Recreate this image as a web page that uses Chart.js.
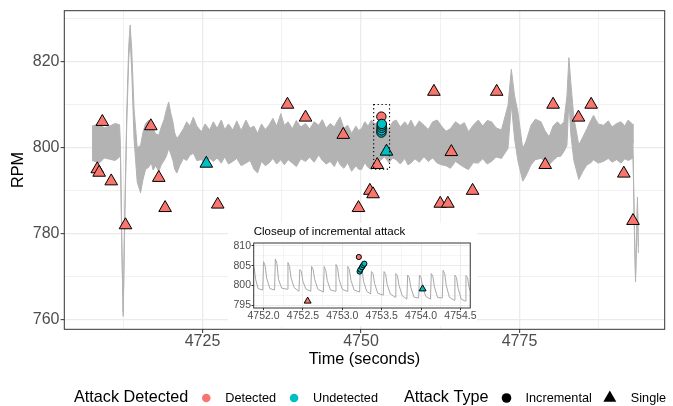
<!DOCTYPE html>
<html>
<head>
<meta charset="utf-8">
<script src="https://cdn.jsdelivr.net/npm/chart.js@4.4.1/dist/chart.umd.min.js"></script>
<style>
  html, body { margin: 0; padding: 0; background: #fff; }
  #wrap { position: relative; width: 673px; height: 406px; }
  #main { position: absolute; left: 0; top: 0; }
  #inset { position: absolute; left: 228px; top: 223px; }
</style>
</head>
<body>
<div id="wrap">
  <canvas id="main" width="673" height="406"></canvas>
  <canvas id="inset" width="249" height="103"></canvas>
</div>
<script>
// signal envelope (dense RPM oscillation)
const bandTime = [4707.55, 4708.8, 4709.5, 4710.36, 4711.2, 4711.92, 4712.05, 4712.27, 4712.49, 4712.74,
  4713.05, 4713.36, 4713.58, 4713.83, 4714.2, 4714.7, 4715.23, 4715.6, 4716.01, 4716.54,
  4716.9, 4717.21, 4717.6, 4718.1, 4718.5, 4718.93, 4719.3, 4719.66, 4720.0, 4720.33,
  4720.6, 4720.95, 4721.4, 4721.99, 4722.5, 4723.0, 4723.55, 4724.1, 4724.84, 4725.4,
  4726.14, 4726.7, 4727.3, 4727.96, 4728.5, 4729.1, 4729.78, 4730.4, 4731.1, 4731.85,
  4732.5, 4733.1, 4733.68, 4734.3, 4734.9, 4735.48, 4736.1, 4736.7, 4737.35, 4737.9,
  4738.5, 4739.17, 4739.8, 4740.5, 4741.25, 4741.9, 4742.6, 4743.33, 4743.9, 4744.5,
  4745.14, 4745.8, 4746.3, 4746.7, 4747.3, 4747.9, 4748.52, 4749.2, 4749.6, 4750.08,
  4750.6, 4751.1, 4751.64, 4752.2, 4752.9, 4753.71, 4754.4, 4755.0, 4755.53, 4756.2,
  4756.9, 4757.4, 4757.87, 4758.5, 4759.2, 4759.94, 4760.6, 4761.3, 4762.02, 4762.7,
  4763.4, 4764.1, 4764.9, 4765.65, 4766.3, 4766.95, 4767.7, 4768.5, 4769.2, 4769.9,
  4770.59, 4771.3, 4772.15, 4773.18, 4773.71, 4774.22, 4774.74, 4775.51, 4776.04, 4776.82,
  4777.5, 4778.38, 4779.0, 4779.67, 4780.3, 4780.97, 4781.5, 4782.01, 4782.48, 4782.79,
  4783.1, 4783.57, 4784.35, 4785.0, 4785.64, 4786.2, 4786.68, 4787.4, 4788.24, 4789.0,
  4789.6, 4790.31, 4791.0, 4791.6, 4792.13, 4792.8, 4792.9, 4793.0, 4793.15, 4793.3,
  4793.45, 4793.6, 4793.75];
const bandHigh = [805.0, 805.6, 804.6, 805.0, 805.6, 805.3, 801.0, 778.5, 761.8, 785.0,
  808.0, 823.5, 828.5, 823.0, 809.0, 800.0, 800.5, 803.5, 805.6, 806.4,
  804.0, 804.5, 803.2, 802.9, 804.8, 806.5, 808.8, 810.6, 808.0, 806.0,
  803.5, 802.1, 803.0, 804.4, 806.0, 805.0, 807.1, 805.0, 803.7, 805.5,
  804.1, 806.0, 804.5, 806.4, 804.2, 805.5, 804.1, 806.2, 804.0, 806.4,
  804.5, 805.0, 803.3, 805.5, 804.2, 805.2, 806.8, 805.0, 807.9, 805.2,
  806.0, 804.4, 806.3, 804.8, 805.6, 804.3, 806.0, 805.2, 806.5, 804.5,
  805.6, 804.8, 806.2, 807.1, 804.5, 805.2, 803.3, 805.0, 804.0, 804.4,
  806.0, 805.0, 806.4, 805.5, 806.3, 805.2, 804.3, 806.0, 806.4, 804.8,
  806.0, 805.0, 806.4, 804.6, 806.2, 805.2, 804.2, 806.0, 806.4, 805.0,
  803.8, 804.4, 806.0, 805.2, 805.8, 803.7, 805.2, 806.4, 805.0, 806.3,
  806.0, 804.6, 804.1, 809.8, 818.2, 812.0, 808.3, 799.8, 801.5, 805.2,
  806.6, 806.0, 804.0, 802.5, 805.0, 806.0, 805.2, 806.0, 812.0, 820.9,
  815.0, 807.0, 800.6, 802.5, 804.4, 806.2, 807.5, 805.5, 805.2, 806.2,
  804.8, 805.6, 806.0, 805.0, 806.4, 805.5, 801.0, 792.0, 780.0, 770.0,
  779.0, 788.5, 777.0];
const bandLow = [797.0, 796.5, 797.6, 797.3, 797.0, 797.8, 798.5, 776.5, 760.8, 783.0,
  805.5, 820.5, 825.5, 818.0, 802.0, 792.0, 789.5, 792.5, 794.9, 795.5,
  796.5, 794.8, 795.8, 794.5, 796.0, 797.0, 798.0, 799.8, 798.5, 797.0,
  795.0, 794.1, 795.8, 797.5, 797.0, 798.2, 798.7, 797.0, 797.2, 796.2,
  797.5, 796.8, 797.6, 796.4, 797.8, 796.2, 796.8, 797.5, 795.8, 796.4,
  797.0, 795.0, 794.1, 796.8, 795.8, 796.4, 797.5, 796.2, 797.2, 796.0,
  797.2, 796.4, 795.6, 797.4, 796.8, 797.8, 796.6, 798.3, 797.0, 796.2,
  796.8, 795.6, 797.2, 796.0, 795.2, 796.5, 794.5, 795.8, 795.0, 794.9,
  796.5, 795.4, 794.9, 797.5, 796.8, 797.9, 796.5, 797.6, 797.2, 796.2,
  797.5, 796.0, 796.4, 797.4, 796.6, 797.9, 796.8, 797.6, 796.4, 796.0,
  795.8, 795.2, 796.8, 796.0, 795.4, 794.9, 796.5, 796.4, 797.4, 796.2,
  796.8, 797.8, 797.5, 799.8, 810.0, 802.0, 797.0, 792.2, 793.5, 796.0,
  797.2, 797.5, 796.8, 796.0, 797.0, 797.9, 798.0, 799.1, 800.5, 811.0,
  803.0, 797.0, 792.6, 794.5, 796.0, 796.4, 797.2, 796.4, 796.8, 797.5,
  796.6, 797.2, 796.4, 797.4, 797.0, 797.5, 798.0, 790.0, 778.0, 768.8,
  777.0, 786.5, 775.5];

// raw signal inside the closeup window
const insetTime = [4751.88, 4751.9, 4751.93,
  4751.99, 4752.0, 4752.02, 4752.04, 4752.08,
  4752.14, 4752.15, 4752.17, 4752.19, 4752.23,
  4752.30, 4752.31, 4752.33, 4752.35, 4752.39,
  4752.45, 4752.46, 4752.48, 4752.50, 4752.54,
  4752.60, 4752.61, 4752.63, 4752.65, 4752.69,
  4752.76, 4752.77, 4752.79, 4752.81, 4752.85,
  4752.91, 4752.92, 4752.94, 4752.96, 4753.00,
  4753.06, 4753.07, 4753.09, 4753.11, 4753.15,
  4753.22, 4753.23, 4753.25, 4753.27, 4753.31,
  4753.36, 4753.37, 4753.39, 4753.41, 4753.45,
  4753.52, 4753.53, 4753.55, 4753.57, 4753.61,
  4753.67, 4753.68, 4753.70, 4753.72, 4753.76,
  4753.82, 4753.83, 4753.85, 4753.87, 4753.91,
  4753.97, 4753.98, 4754.00, 4754.02, 4754.06,
  4754.12, 4754.13, 4754.15, 4754.17, 4754.21,
  4754.27, 4754.28, 4754.30, 4754.32, 4754.36,
  4754.42, 4754.43, 4754.45, 4754.47, 4754.51,
  4754.56, 4754.57, 4754.59, 4754.61, 4754.65];
const insetRpm = [804.6, 801.5, 799.2,
  798.8, 806.0, 805.0, 801.8, 799.2,
  798.8, 806.7, 805.5, 801.5, 799.3,
  799.0, 805.8, 804.8, 801.8, 799.4,
  798.5, 804.0, 803.6, 801.0, 799.0,
  798.5, 804.8, 804.0, 801.5, 799.0,
  798.3, 804.8, 803.8, 801.2, 798.8,
  798.5, 805.3, 804.4, 801.5, 799.0,
  798.5, 804.8, 804.0, 801.3, 798.8,
  798.3, 805.3, 804.2, 801.0, 798.5,
  797.8, 803.5, 803.0, 800.5, 798.0,
  797.5, 803.5, 802.8, 800.2, 797.8,
  797.0, 803.0, 802.5, 800.0, 797.4,
  796.5, 802.6, 802.0, 799.5, 797.0,
  796.8, 802.6, 802.0, 799.5, 797.2,
  796.5, 803.0, 802.3, 799.6, 796.9,
  796.8, 803.8, 803.0, 800.0, 797.0,
  796.2, 802.6, 802.0, 799.3, 796.5,
  796.0, 802.5, 802.0, 799.5, 797.0];

// attacks
const detSingleTime = [4709.2, 4708.4, 4708.7, 4710.6, 4712.85, 4716.85, 4718.1, 4719.1, 4727.4, 4738.4,
  4741.25, 4747.2, 4749.6, 4751.4, 4751.9, 4752.56, 4761.5, 4762.5, 4763.7, 4764.25,
  4767.6, 4771.4, 4779.05, 4780.3, 4784.3, 4786.3, 4791.45, 4792.9];
const detSingleRpm = [806.0, 795.0, 794.2, 792.2, 782.0, 805.0, 793.0, 786.0, 786.8, 810.0,
  807.0, 803.0, 786.0, 790.0, 789.2, 796.0, 813.0, 787.0, 787.0, 799.0,
  790.0, 813.0, 796.0, 810.0, 807.0, 810.0, 794.0, 783.0];
const undetSingleTime = [4725.6, 4754.02];
const undetSingleRpm = [796.3, 799.1];
const detIncTime = [4753.21];
const detIncRpm = [807.2];
const undetIncTime = [4753.22, 4753.23, 4753.25, 4753.265, 4753.28];
const undetIncRpm = [803.5, 804.0, 804.6, 805.1, 805.5];

const zoomWindow = [4752, 4754.5, 795, 810];

const xMajor = [4725, 4750, 4775];
const xMinor = [4712.5, 4737.5, 4762.5, 4787.5];
const yMajor = [760, 780, 800, 820];
const yMinor = [770, 790, 810, 830];
const insetXMajor = [4752, 4752.5, 4753, 4753.5, 4754, 4754.5];
const insetXMinor = [4752.25, 4752.75, 4753.25, 4753.75, 4754.25];
const insetYMajor = [795, 800, 805, 810];
const insetYMinor = [797.5, 802.5, 807.5];

const detectedLabels = ['Detected', 'Undetected'];
const typeLabels = ['Incremental', 'Single'];

const RED = '#F8766D';
const TEAL = '#00BFC4';
const FONT = '"Liberation Sans", Arial, Helvetica, sans-serif';
Chart.defaults.font.family = FONT;

const toXY = (xs, ys) => xs.map((x, i) => ({ x: x, y: ys[i] }));
const tickList = (major, minor) => major.concat(minor).sort((a, b) => a - b).map(v => ({ value: v }));

function gridOpts(major, wMajor, wMinor, tl) {
  return {
    color: '#ebebeb',
    lineWidth: c => major.includes(c.tick.value) ? wMajor : wMinor,
    tickColor: c => major.includes(c.tick.value) ? '#333333' : 'rgba(0,0,0,0)',
    tickWidth: 1,
    tickLength: tl
  };
}

const panelBorder = {
  id: 'panelBorder',
  afterDatasetsDraw(chart) {
    const a = chart.chartArea, ctx = chart.ctx;
    ctx.save();
    ctx.strokeStyle = '#333333';
    ctx.lineWidth = 1;
    ctx.strokeRect(a.left, a.top, a.right - a.left, a.bottom - a.top);
    ctx.restore();
  }
};

const zoomBox = {
  id: 'zoomBox',
  afterDatasetsDraw(chart) {
    const sx = chart.scales.x, sy = chart.scales.y, ctx = chart.ctx;
    const x0 = sx.getPixelForValue(zoomWindow[0]), x1 = sx.getPixelForValue(zoomWindow[1]);
    const y0 = sy.getPixelForValue(zoomWindow[3]), y1 = sy.getPixelForValue(zoomWindow[2]);
    ctx.save();
    ctx.strokeStyle = '#000';
    ctx.lineWidth = 1.1;
    ctx.setLineDash([1.3, 2.6]);
    ctx.strokeRect(x0, y0, x1 - x0, y1 - y0);
    ctx.restore();
  }
};

const legendRow = {
  id: 'legendRow',
  afterDraw(chart) {
    const ctx = chart.ctx;
    const cy = 398;
    let x = 74;
    ctx.save();
    ctx.textBaseline = 'middle';
    ctx.textAlign = 'left';
    const text = (t, size) => {
      ctx.font = size + 'px ' + FONT;
      ctx.fillStyle = '#000';
      ctx.fillText(t, x, cy);
      x += ctx.measureText(t).width;
    };
    const dot = (color, r) => {
      ctx.beginPath();
      ctx.arc(x, cy, r, 0, Math.PI * 2);
      ctx.fillStyle = color;
      ctx.fill();
    };
    const tri = r => {
      ctx.beginPath();
      ctx.moveTo(x, cy - r);
      ctx.lineTo(x + r * 0.866, cy + r / 2);
      ctx.lineTo(x - r * 0.866, cy + r / 2);
      ctx.closePath();
      ctx.fillStyle = '#000';
      ctx.fill();
    };
    text('Attack Detected', 16.2);
    x += 18; dot(RED, 4.3); x += 19; text(detectedLabels[0], 12.7);
    x += 18; dot(TEAL, 4.3); x += 19; text(detectedLabels[1], 12.7);
    x += 26; text('Attack Type', 16.2);
    x += 18; dot('#000', 4.8); x += 19; text(typeLabels[0], 12.7);
    x += 18; tri(7.5); x += 21; text(typeLabels[1], 12.7);
    ctx.restore();
  }
};

function attackSets(rTri, rCirc) {
  return [
    { data: toXY(undetIncTime, undetIncRpm), pointStyle: 'circle', pointRadius: rCirc, backgroundColor: TEAL },
    { data: toXY(detIncTime, detIncRpm), pointStyle: 'circle', pointRadius: rCirc, backgroundColor: RED },
    { data: toXY(undetSingleTime, undetSingleRpm), pointStyle: 'triangle', pointRadius: rTri, backgroundColor: TEAL },
    { data: toXY(detSingleTime, detSingleRpm), pointStyle: 'triangle', pointRadius: rTri, backgroundColor: RED }
  ].map((d, i) => Object.assign(d, {
    showLine: false, borderColor: '#000', pointBorderColor: '#000', pointBackgroundColor: d.backgroundColor,
    pointBorderWidth: 1, pointHoverRadius: rTri, order: i
  }));
}

new Chart(document.getElementById('main'), {
  type: 'line',
  data: {
    datasets: attackSets(7.3, 4.7).concat([
      { data: toXY(bandTime, bandHigh), borderColor: '#b3b3b3', backgroundColor: '#b3b3b3', borderWidth: 1,
        pointRadius: 0, fill: '+1', order: 20 },
      { data: toXY(bandTime, bandLow), borderColor: '#b3b3b3', borderWidth: 1, pointRadius: 0, fill: false, order: 21 }
    ])
  },
  options: {
    responsive: false,
    animation: false,
    events: [],
    layout: { padding: { top: 7.3, right: 1.3, bottom: 32.7, left: 0 } },
    plugins: { legend: { display: false }, tooltip: { enabled: false } },
    scales: {
      x: {
        type: 'linear', min: 4703.2, max: 4797.9,
        afterBuildTicks: s => { s.ticks = tickList(xMajor, xMinor); },
        afterFit: s => { s.height = 44; },
        border: { display: false },
        grid: gridOpts(xMajor, 1.3, 0.7, 3.7),
        ticks: { autoSkip: false, maxRotation: 0, padding: 0.3, color: '#4d4d4d',
          font: { size: 16, lineHeight: 1 },
          callback: v => xMajor.includes(v) ? String(v) : '' },
        title: { display: true, text: 'Time (seconds)', color: '#000', font: { size: 16.3 },
          padding: { top: 0, bottom: 4 } }
      },
      y: {
        type: 'linear', min: 757.8, max: 831.8,
        afterBuildTicks: s => { s.ticks = tickList(yMajor, yMinor); },
        afterFit: s => { s.width = 64.3; },
        border: { display: false },
        grid: gridOpts(yMajor, 1.3, 0.7, 3.7),
        ticks: { autoSkip: false, padding: 1.1, color: '#4d4d4d', font: { size: 16 },
          callback: v => yMajor.includes(v) ? String(v) : '' },
        title: { display: true, text: 'RPM', color: '#000', font: { size: 16.3 },
          padding: { top: 9, bottom: 0 } }
      }
    }
  },
  plugins: [panelBorder, zoomBox, legendRow]
});

const insetFrame = {
  id: 'insetFrame',
  beforeDraw(chart) {
    const ctx = chart.ctx;
    ctx.save();
    ctx.fillStyle = '#fff';
    ctx.fillRect(0, 0, chart.width, chart.height);
    ctx.restore();
  },
  afterDraw(chart) {
    const ctx = chart.ctx;
    ctx.save();
    ctx.font = '11.5px ' + FONT;
    ctx.fillStyle = '#000';
    ctx.textBaseline = 'middle';
    ctx.fillText('Closeup of incremental attack', chart.chartArea.left, 9);
    ctx.restore();
  }
};

new Chart(document.getElementById('inset'), {
  type: 'line',
  data: {
    datasets: attackSets(4, 2.6).concat([
      { data: toXY(insetTime, insetRpm), borderColor: '#a8a8a8', borderWidth: 1, pointRadius: 0,
        fill: false, order: 20 }
    ])
  },
  options: {
    responsive: false,
    animation: false,
    events: [],
    layout: { padding: { top: 20, right: 5, bottom: 0, left: 0 } },
    plugins: { legend: { display: false }, tooltip: { enabled: false } },
    scales: {
      x: {
        type: 'linear', min: zoomWindow[0] - 0.125, max: zoomWindow[1] + 0.125,
        afterBuildTicks: s => { s.ticks = tickList(insetXMajor, insetXMinor); },
        afterFit: s => { s.height = 18; },
        border: { display: false },
        grid: gridOpts(insetXMajor, 1, 0.5, 2.2),
        ticks: { autoSkip: false, maxRotation: 0, padding: 0.3, color: '#4d4d4d',
          font: { size: 10.5, lineHeight: 1 },
          callback: v => insetXMajor.includes(v) ? v.toFixed(1) : '' }
      },
      y: {
        type: 'linear', min: zoomWindow[2] - 0.75, max: zoomWindow[3] + 0.75,
        afterBuildTicks: s => { s.ticks = tickList(insetYMajor, insetYMinor); },
        afterFit: s => { s.width = 25.7; },
        border: { display: false },
        grid: gridOpts(insetYMajor, 1, 0.5, 2.2),
        ticks: { autoSkip: false, padding: 0.5, color: '#4d4d4d', font: { size: 10.5 },
          callback: v => insetYMajor.includes(v) ? String(v) : '' }
      }
    }
  },
  plugins: [insetFrame, panelBorder]
});
</script>
</body>
</html>
